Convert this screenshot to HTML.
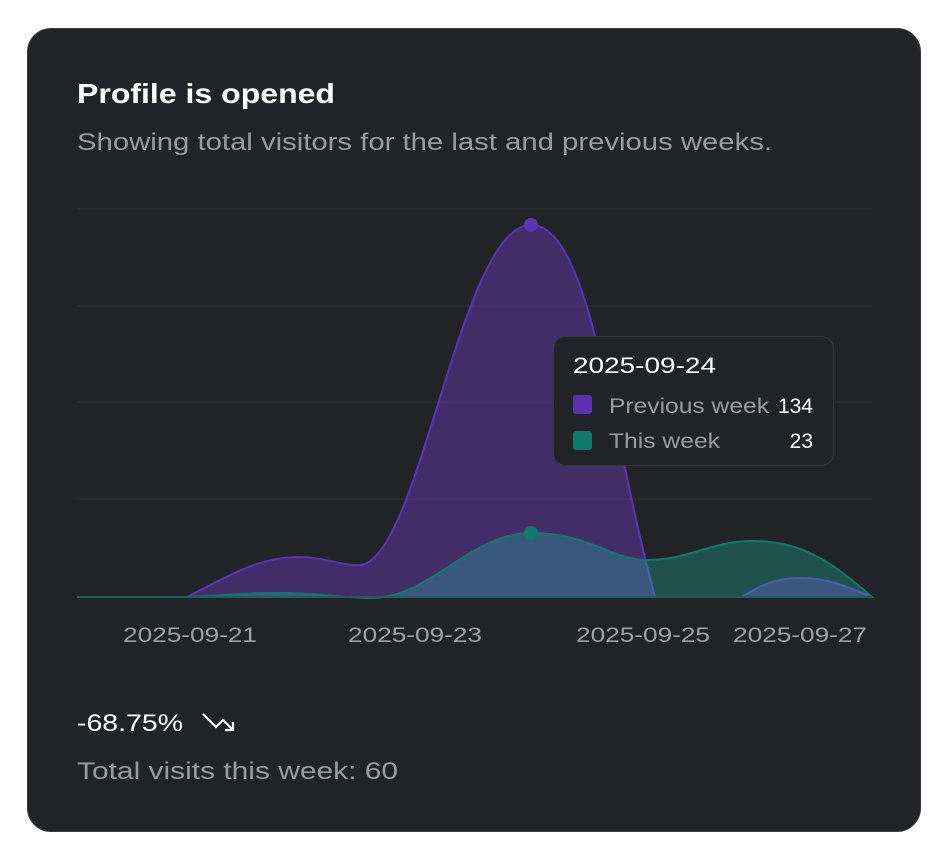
<!DOCTYPE html>
<html><head><style>
body{margin:0;width:948px;height:862px;background:#fff;font-family:"Liberation Sans",sans-serif;overflow:hidden}
.card{position:absolute;left:27px;top:28px;width:892px;height:802px;background:#212327;border:1px solid #3a3c40;border-radius:24px}
svg{position:absolute;left:0;top:0}
</style></head><body>
<div class="card"></div>
<svg width="948" height="862" font-family="Liberation Sans, sans-serif">
<text x="77" y="103" font-size="28" font-weight="bold" fill="#fff" textLength="258" lengthAdjust="spacingAndGlyphs">Profile is opened</text>
<text x="77" y="150" font-size="24" fill="#9b9b9e" textLength="695" lengthAdjust="spacingAndGlyphs">Showing total visitors for the last and previous weeks.</text>
<g stroke="#2e3034" stroke-width="1">
<line x1="77" y1="209" x2="872" y2="209"/><line x1="77" y1="306" x2="872" y2="306"/>
<line x1="77" y1="402" x2="872" y2="402"/><line x1="77" y1="499" x2="872" y2="499"/>
</g>
<path d="M77,597 L187,597 C230,575 260,557 298,557 C325,557 340,566 360,565 C420,560 460,225 531,225 C590,225 610,430 655,597 L742,597 C765,582 780,578 800,578 C830,578 850,588 872,597 Z" fill="rgb(95,55,160)" fill-opacity="0.55" stroke="#5b34b5" stroke-width="2"/>
<path d="M77,597 L187,597 C230,595 250,593 277,593 C320,593 340,598 372,598 C430,598 470,533 531,533 C590,533 610,560 647,560 C690,560 710,541 753,541 C800,541 830,560 872,597 Z" fill="rgb(33,203,175)" fill-opacity="0.28" stroke="#0f7a6c" stroke-width="2"/>
<line x1="77" y1="597" x2="872" y2="597" stroke="#3a3d44" stroke-width="1"/>
<circle cx="531" cy="225" r="7" fill="#5b34b5"/>
<circle cx="531" cy="533" r="7" fill="#0f7a6c"/>
<g font-size="21" fill="#a0a0a3">
<text x="123" y="642" textLength="134" lengthAdjust="spacingAndGlyphs">2025-09-21</text>
<text x="348" y="642" textLength="134" lengthAdjust="spacingAndGlyphs">2025-09-23</text>
<text x="576" y="642" textLength="134" lengthAdjust="spacingAndGlyphs">2025-09-25</text>
<text x="733" y="642" textLength="134" lengthAdjust="spacingAndGlyphs">2025-09-27</text>
</g>
<text x="77" y="731" font-size="24" fill="#fff" textLength="106" lengthAdjust="spacingAndGlyphs">-68.75%</text>
<path d="M203,714 L216,727 L223,720 L233,730 M225,730 L233,730 L233,722" fill="none" stroke="#fff" stroke-width="2.2"/>
<text x="77" y="779" font-size="24" fill="#9b9b9e" textLength="321" lengthAdjust="spacingAndGlyphs">Total visits this week: 60</text>
<rect x="553.5" y="336.5" width="280" height="129" rx="12" fill="#212327" stroke="#35373b"/>
<text x="573" y="373" font-size="22" fill="#fff" textLength="143" lengthAdjust="spacingAndGlyphs">2025-09-24</text>
<rect x="573" y="395" width="19" height="19" rx="3" fill="#5a32b0"/>
<rect x="573" y="431" width="19" height="19" rx="3" fill="#0f7a6c"/>
<text x="609" y="413" font-size="21" fill="#9b9b9e" textLength="160" lengthAdjust="spacingAndGlyphs">Previous week</text>
<text x="609" y="448" font-size="21" fill="#9b9b9e" textLength="111" lengthAdjust="spacingAndGlyphs">This week</text>
<text x="813" y="413" font-size="21" fill="#fff" text-anchor="end">134</text>
<text x="813" y="448" font-size="21" fill="#fff" text-anchor="end">23</text>
</svg>
</body></html>
